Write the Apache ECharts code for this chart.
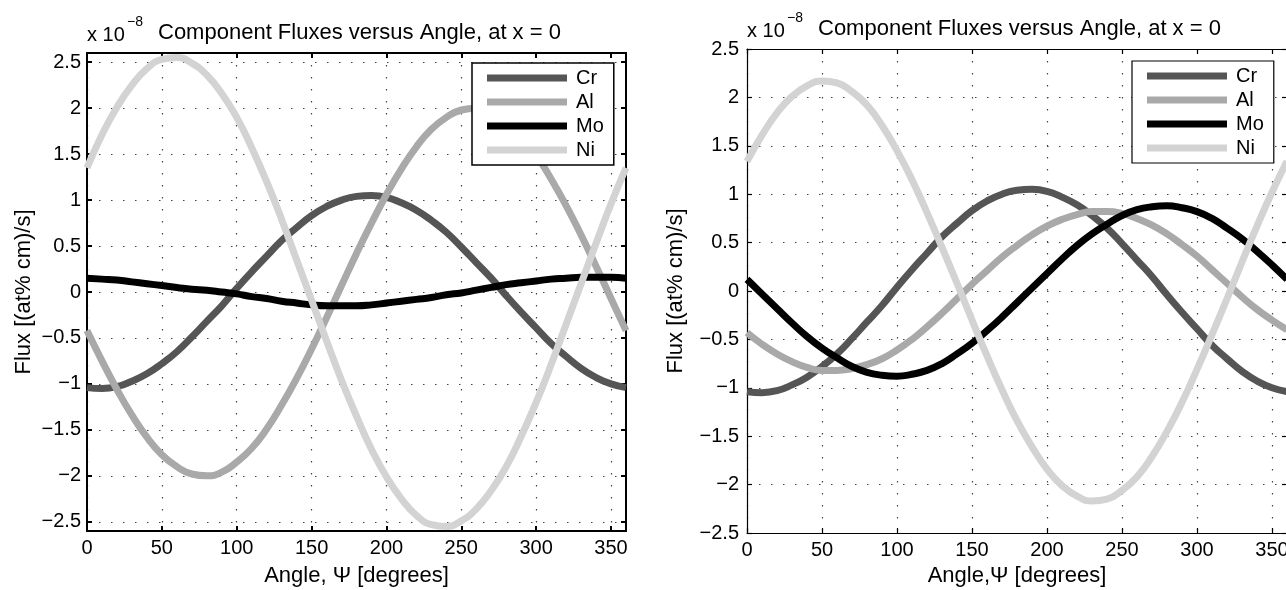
<!DOCTYPE html>
<html>
<head>
<meta charset="utf-8">
<script src="https://cdn.jsdelivr.net/npm/echarts@6/dist/echarts.min.js"></script>
<style>
  html, body { margin: 0; padding: 0; background: #fff; }
  #chart { width: 1286px; height: 590px; }
</style>
</head>
<body>
<div id="chart"></div>
<script>
// angle samples (degrees)
const angles = [0, 10, 20, 30, 40, 50, 60, 70, 80, 90, 100, 110, 120, 130, 140, 150, 160, 170, 180,
  190, 200, 210, 220, 230, 240, 250, 260, 270, 280, 290, 300, 310, 320, 330, 340, 350, 360]

// left plot, flux x 1e-8
const crLeft = [-1.04, -1.05, -1.03, -0.97, -0.89, -0.78, -0.65, -0.49, -0.32, -0.15, 0.04, 0.22, 0.39, 0.56, 0.70, 0.83, 0.93, 1.00, 1.04,
  1.05, 1.03, 0.97, 0.89, 0.78, 0.65, 0.49, 0.32, 0.15, -0.04, -0.22, -0.39, -0.56, -0.70, -0.83, -0.93, -1.00, -1.04]
const alLeft = [-0.42, -0.75, -1.06, -1.34, -1.58, -1.77, -1.90, -1.98, -2.00, -1.96, -1.85, -1.70, -1.49, -1.23, -0.94, -0.62, -0.28, 0.07, 0.42,
  0.75, 1.06, 1.34, 1.58, 1.77, 1.90, 1.98, 2.00, 1.96, 1.85, 1.70, 1.49, 1.23, 0.94, 0.62, 0.28, -0.07, -0.42]
const moLeft = [0.15, 0.14, 0.13, 0.11, 0.09, 0.07, 0.05, 0.03, 0.02, 0.00, -0.02, -0.05, -0.07, -0.10, -0.12, -0.14, -0.15, -0.15, -0.15,
  -0.14, -0.12, -0.10, -0.08, -0.06, -0.03, -0.01, 0.02, 0.05, 0.08, 0.10, 0.12, 0.14, 0.15, 0.16, 0.16, 0.16, 0.15]
const niLeft = [1.35, 1.71, 2.01, 2.25, 2.43, 2.53, 2.55, 2.49, 2.36, 2.16, 1.90, 1.57, 1.20, 0.79, 0.35, -0.09, -0.53, -0.96, -1.35,
  -1.71, -2.01, -2.25, -2.43, -2.53, -2.55, -2.49, -2.36, -2.16, -1.90, -1.57, -1.20, -0.79, -0.35, 0.09, 0.53, 0.96, 1.35]

// right plot, flux x 1e-8
const crRight = [-1.04, -1.05, -1.03, -0.97, -0.89, -0.78, -0.65, -0.49, -0.32, -0.15, 0.04, 0.22, 0.39, 0.56, 0.70, 0.83, 0.93, 1.00, 1.04,
  1.05, 1.03, 0.97, 0.89, 0.78, 0.65, 0.49, 0.32, 0.15, -0.04, -0.22, -0.39, -0.56, -0.70, -0.83, -0.93, -1.00, -1.04]
const alRight = [-0.43, -0.55, -0.65, -0.73, -0.79, -0.82, -0.82, -0.80, -0.76, -0.70, -0.61, -0.50, -0.37, -0.23, -0.08, 0.07, 0.21, 0.35, 0.47,
  0.58, 0.67, 0.74, 0.79, 0.82, 0.82, 0.80, 0.75, 0.68, 0.59, 0.48, 0.36, 0.22, 0.08, -0.06, -0.19, -0.30, -0.40]
const moRight = [0.12, -0.03, -0.18, -0.33, -0.47, -0.59, -0.69, -0.78, -0.84, -0.87, -0.88, -0.86, -0.82, -0.75, -0.65, -0.54, -0.41, -0.27, -0.12,
  0.03, 0.18, 0.33, 0.47, 0.59, 0.69, 0.78, 0.84, 0.87, 0.88, 0.86, 0.82, 0.75, 0.65, 0.54, 0.41, 0.27, 0.12]
const niRight = [1.34, 1.61, 1.84, 2.01, 2.12, 2.17, 2.15, 2.06, 1.92, 1.71, 1.45, 1.15, 0.81, 0.45, 0.08, -0.30, -0.67, -1.02, -1.34,
  -1.61, -1.84, -2.01, -2.12, -2.17, -2.15, -2.06, -1.92, -1.71, -1.45, -1.15, -0.81, -0.45, -0.08, 0.30, 0.67, 1.02, 1.34]

const xTicks = [0, 50, 100, 150, 200, 250, 300, 350]
const yTicks = [-2.5, -2, -1.5, -1, -0.5, 0, 0.5, 1, 1.5, 2, 2.5]
const names = ['Cr', 'Al', 'Mo', 'Ni']
const colors = ['#555555', '#a9a9a9', '#000000', '#d3d3d3']

const FONT = '"Liberation Sans", Arial, Helvetica, sans-serif'
const chart = echarts.init(document.getElementById('chart'))

const fmt = (v) => (v < 0 ? '\u2212' + Math.abs(v) : String(v))
const gridDots = { show: true, lineStyle: { color: '#444', width: 1.2, type: [1.5, 10.5] } }

function xAxes(g, title, gap, lw) {
  const base = { type: 'value', gridIndex: g, min: 0, max: 360,
    axisLine: { show: true, onZero: false, lineStyle: { color: '#000', width: lw } },
    axisTick: { inside: true, length: 5, customValues: xTicks, lineStyle: { color: '#000', width: lw } } }
  return [
    Object.assign({}, base, {
      position: 'bottom', name: title, nameLocation: 'middle', nameGap: gap,
      nameTextStyle: { fontSize: 22, fontFamily: FONT, color: '#000' },
      axisLabel: { customValues: xTicks, fontSize: 20, fontFamily: FONT, color: '#000', margin: 7 },
      splitLine: gridDots
    }),
    Object.assign({}, base, { position: 'top', axisLabel: { show: false }, splitLine: { show: false } })
  ]
}

function yAxes(g, lim, gap, lw, margin) {
  const base = { type: 'value', gridIndex: g, min: -lim, max: lim,
    axisLine: { show: true, onZero: false, lineStyle: { color: '#000', width: lw } },
    axisTick: { inside: true, length: 5, customValues: yTicks, lineStyle: { color: '#000', width: lw } } }
  return [
    Object.assign({}, base, {
      position: 'left', name: 'Flux [(at% cm)/s]', nameLocation: 'middle', nameGap: gap,
      nameTextStyle: { fontSize: 22, fontFamily: FONT, color: '#000' },
      axisLabel: { customValues: yTicks, formatter: fmt, fontSize: 20, fontFamily: FONT, color: '#000', margin: margin },
      splitLine: gridDots
    }),
    Object.assign({}, base, { position: 'right', axisLabel: { show: false }, splitLine: { show: false } })
  ]
}

function lines(g, sets) {
  return sets.map((vals, i) => ({
    type: 'line', name: names[i], xAxisIndex: g * 2, yAxisIndex: g * 2,
    data: angles.map((a, k) => [a, vals[k]]),
    smooth: true, showSymbol: false, symbol: 'none', clip: true,
    lineStyle: { color: colors[i], width: 7, cap: 'butt' },
    itemStyle: { color: colors[i] },
    z: 3 + i
  }))
}

function legendAt(left, top, bw) {
  return {
    data: names, orient: 'vertical', left: left, top: top, icon: 'rect',
    itemWidth: 80, itemHeight: 7, itemGap: 4, padding: [5, 10, 5, 15],
    borderColor: '#000', borderWidth: bw, backgroundColor: '#fff', selectedMode: false,
    textStyle: { fontSize: 20, lineHeight: 20, fontFamily: FONT, color: '#000', padding: [0, 0, 0, 4] },
    z: 10
  }
}

function titleText(x, y, main) {
  return [
    { type: 'text', x: x, y: y + 2, style: { text: 'x 10', fontSize: 20, fontFamily: FONT, fill: '#000', verticalAlign: 'middle' } },
    { type: 'text', x: x + 40, y: y - 11, style: { text: '\u22128', fontSize: 14, fontFamily: FONT, fill: '#000', verticalAlign: 'middle' } },
    { type: 'text', x: x + 71, y: y, style: { text: main, fontSize: 22, fontFamily: FONT, fill: '#000', verticalAlign: 'middle' } }
  ]
}

const option = {
  animation: false,
  backgroundColor: '#fff',
  textStyle: { fontFamily: FONT },
  grid: [
    { left: 87, top: 53, width: 539, height: 478, outerBoundsMode: 'none' },
    { left: 747, top: 49, width: 540, height: 484, outerBoundsMode: 'none' }
  ],
  xAxis: [].concat(xAxes(0, 'Angle, \u03A8 [degrees]', 34, 2), xAxes(1, 'Angle,\u03A8 [degrees]', 32, 1.2)),
  yAxis: [].concat(yAxes(0, 2.6, 52, 2, 6), yAxes(1, 2.5, 60, 1.2, 8)),
  legend: [legendAt(472, 63, 1.5), legendAt(1132, 61, 1.2)],
  graphic: [].concat(
    titleText(87, 33, 'Component Fluxes versus Angle, at x = 0'),
    titleText(747, 29, 'Component Fluxes versus Angle, at x = 0')
  ),
  series: [].concat(
    lines(0, [crLeft, alLeft, moLeft, niLeft]),
    lines(1, [crRight, alRight, moRight, niRight])
  )
}

chart.setOption(option)
</script>
</body>
</html>
